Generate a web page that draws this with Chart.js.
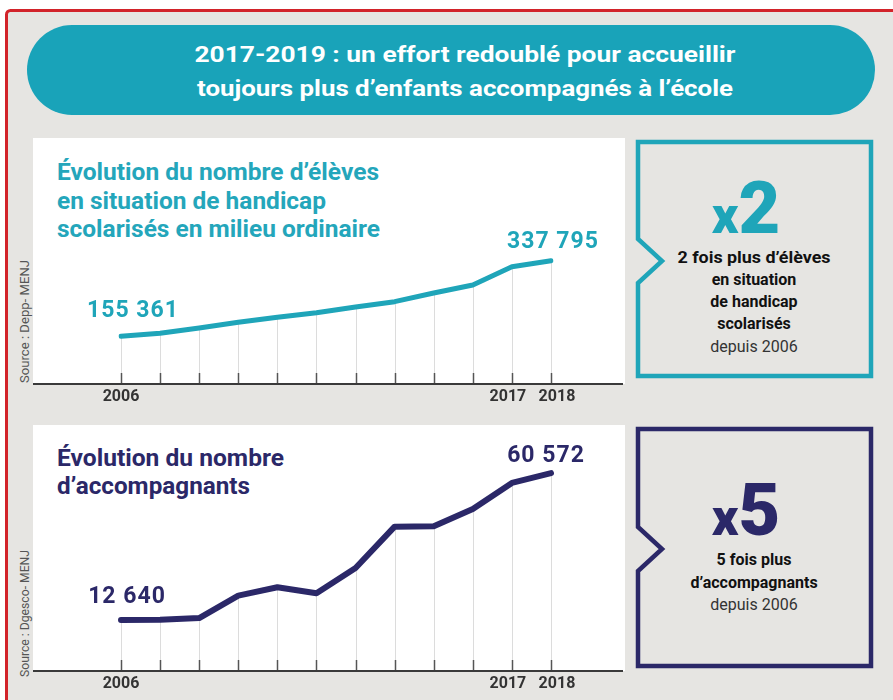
<!DOCTYPE html>
<html lang="fr">
<head>
<meta charset="utf-8">
<script src="https://cdn.jsdelivr.net/npm/chart.js@4.4.1/dist/chart.umd.min.js"></script>
<style>
  body { margin: 0; width: 893px; height: 700px; overflow: hidden; background: #fff; font-family: Roboto, sans-serif; }
  #bg { position: absolute; left: 0; top: 0; }
  .chart-box { position: absolute; left: 33px; width: 592px; height: 280px; }
</style>
</head>
<body>
<svg id="bg" width="893" height="700" xmlns="http://www.w3.org/2000/svg" font-family="Roboto, sans-serif">
  <rect x="6.5" y="10.5" width="900" height="700" rx="4" fill="#e6e5e2" stroke="#d2232a" stroke-width="3"/>
  <rect x="27" y="25" width="848" height="90" rx="45" fill="#19a3b9"/>
  <text x="465" y="62" text-anchor="middle" fill="#fff" font-weight="bold" font-size="22" textLength="541" lengthAdjust="spacingAndGlyphs">2017-2019 :  un effort redoublé pour accueillir</text>
  <text x="465" y="96" text-anchor="middle" fill="#fff" font-weight="bold" font-size="22" textLength="536" lengthAdjust="spacingAndGlyphs">toujours plus d’enfants accompagnés à l’école</text>

  <rect x="33" y="138" width="592" height="246" fill="#fff"/>
  <rect x="33" y="425" width="592" height="246" fill="#fff"/>

  <g fill="#24a6bb" font-weight="bold" font-size="23">
    <text x="57" y="180" textLength="322" lengthAdjust="spacingAndGlyphs">Évolution du nombre d’élèves</text>
    <text x="57" y="208.5" textLength="269" lengthAdjust="spacingAndGlyphs">en situation de handicap</text>
    <text x="57" y="237" textLength="323" lengthAdjust="spacingAndGlyphs">scolarisés en milieu ordinaire</text>
  </g>
  <g fill="#2b2868" font-weight="bold" font-size="23">
    <text x="57" y="466" textLength="227" lengthAdjust="spacingAndGlyphs">Évolution du nombre</text>
    <text x="57" y="494" textLength="193" lengthAdjust="spacingAndGlyphs">d’accompagnants</text>
  </g>

  <text transform="translate(29,383) rotate(-90)" fill="#555" font-size="12.5" textLength="123" lengthAdjust="spacingAndGlyphs">Source : Depp- MENJ</text>
  <text transform="translate(29,677) rotate(-90)" fill="#555" font-size="12.5" textLength="127" lengthAdjust="spacingAndGlyphs">Source : Dgesco- MENJ</text>

  <path d="M638,142 H871 V376 H638 V283 L662,261 L638,239 Z" fill="none" stroke="#1fa5b9" stroke-width="4.5"/>
  <text x="746" y="233" text-anchor="middle" fill="#1fa5b9" font-weight="900"><tspan font-size="52">x</tspan><tspan font-size="72">2</tspan></text>
  <g text-anchor="middle" fill="#111" font-weight="bold" font-size="16">
    <text x="754" y="263" textLength="153" lengthAdjust="spacingAndGlyphs">2 fois plus d’élèves</text>
    <text x="754" y="285">en situation</text>
    <text x="754" y="307">de handicap</text>
    <text x="754" y="329">scolarisés</text>
  </g>
  <text x="754" y="352" text-anchor="middle" fill="#333" font-size="16">depuis 2006</text>

  <path d="M638,429 H871 V666 H638 V571 L662,549 L638,527 Z" fill="none" stroke="#2b2868" stroke-width="4.5"/>
  <text x="746" y="535" text-anchor="middle" fill="#2b2868" font-weight="900"><tspan font-size="52">x</tspan><tspan font-size="72">5</tspan></text>
  <g text-anchor="middle" fill="#111" font-weight="bold" font-size="16">
    <text x="754" y="565">5 fois plus</text>
    <text x="754" y="588">d’accompagnants</text>
  </g>
  <text x="754" y="610" text-anchor="middle" fill="#333" font-size="16">depuis 2006</text>
</svg>

<div class="chart-box" style="top:138px"><canvas id="chartEleves" width="592" height="280"></canvas></div>
<div class="chart-box" style="top:425px"><canvas id="chartAccomp" width="592" height="280"></canvas></div>

<script>
// 12 points on the original x axis, only three years are labelled
const tickLabels = ['2006', '', '', '', '', '', '', '', '', '', '2017', '2018'];
const eleves = [155361, 162600, 175400, 189100, 201200, 212300, 226100, 238900, 259800, 279200, 323300, 337795];
const accompagnants = [12640, 12740, 13290, 20580, 23320, 21360, 29630, 43120, 43250, 48900, 57400, 60572];

const fmt = v => String(v).replace(/\B(?=(\d{3})+(?!\d))/g, ' ');

// vertical drop lines, small ticks and the base line
const dropLines = {
  id: 'dropLines',
  beforeDatasetsDraw(chart) {
    const { ctx, chartArea } = chart;
    const bottom = chartArea.bottom;
    ctx.save();
    chart.getDatasetMeta(0).data.forEach(pt => {
      const x = Math.round(pt.x) + 0.5;
      ctx.strokeStyle = '#dcdcdc';
      ctx.lineWidth = 1;
      ctx.beginPath();
      ctx.moveTo(x, pt.y);
      ctx.lineTo(x, bottom);
      ctx.stroke();
      ctx.strokeStyle = '#555';
      ctx.lineWidth = 1.5;
      ctx.beginPath();
      ctx.moveTo(x, bottom - 11);
      ctx.lineTo(x, bottom);
      ctx.stroke();
    });
    ctx.strokeStyle = '#3a3a3a';
    ctx.lineWidth = 2;
    ctx.beginPath();
    ctx.moveTo(0, bottom);
    ctx.lineTo(chart.width - 2, bottom);
    ctx.stroke();
    ctx.restore();
  }
};

// first and last values written above the line
const endLabels = {
  id: 'endLabels',
  afterDatasetsDraw(chart, args, opts) {
    const { ctx } = chart;
    const pts = chart.getDatasetMeta(0).data;
    const vals = chart.data.datasets[0].data;
    ctx.save();
    ctx.font = 'bold 23px Roboto';
    ctx.letterSpacing = '1px';
    ctx.fillStyle = opts.color;
    ctx.textAlign = 'center';
    ctx.textBaseline = 'middle';
    const first = pts[0], last = pts[pts.length - 1];
    ctx.fillText(fmt(vals[0]), first.x + opts.first[0], first.y + opts.first[1]);
    ctx.fillText(fmt(vals[vals.length - 1]), last.x + opts.last[0], last.y + opts.last[1]);
    ctx.restore();
  }
};

function makeChart(id, values, color, width, yMin, yMax, padTop, first, last) {
  return new Chart(document.getElementById(id), {
    type: 'line',
    data: {
      labels: tickLabels,
      datasets: [{
        data: values,
        borderColor: color,
        borderWidth: width,
        borderJoinStyle: 'round',
        borderCapStyle: 'round',
        pointRadius: 0,
        tension: 0
      }]
    },
    options: {
      responsive: false,
      animation: false,
      layout: { padding: { left: 88, right: 74, top: padTop, bottom: 0 } },
      plugins: {
        legend: { display: false },
        tooltip: { enabled: false },
        endLabels: { color, first, last }
      },
      scales: {
        x: {
          offset: false,
          grid: { display: false, drawTicks: false },
          border: { display: false },
          afterFit(scale) { scale.height = 34; },
          ticks: {
            autoSkip: false,
            maxRotation: 0,
            padding: 3,
            color: '#333',
            font: { family: 'Roboto', weight: 'bold', size: 16 },
            // nudge the two close end labels apart like the original
            callback: (v, i) => i === 10 ? tickLabels[i] + '  ' : i === 11 ? '   ' + tickLabels[i] : tickLabels[i]
          }
        },
        y: { display: false, min: yMin, max: yMax }
      }
    },
    plugins: [dropLines, endLabels]
  });
}

makeChart('chartEleves', eleves, '#1fa5b9', 5, 40000, 400000, 97, [12, -25], [2, -18]);
makeChart('chartAccomp', accompagnants, '#2b2868', 6, -4000, 66500, 30, [6, -23], [-5, -17]);
</script>
</body>
</html>
